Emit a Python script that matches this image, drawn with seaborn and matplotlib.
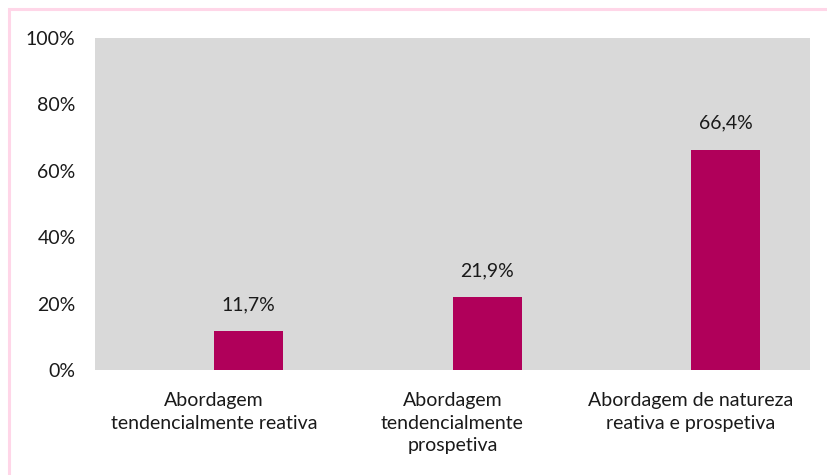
import matplotlib
matplotlib.use("Agg")
import matplotlib.pyplot as plt
import seaborn as sns
import pandas as pd
from matplotlib.patches import Rectangle
from matplotlib.ticker import FuncFormatter

categories = ["Abordagem\ntendencialmente reativa",
              "Abordagem\ntendencialmente\nprospetiva",
              "Abordagem de natureza\nreativa e prospetiva"]
values = [11.7, 21.9, 66.4]
value_labels = ["11,7%", "21,9%", "66,4%"]
yticks = [0, 20, 40, 60, 80, 100]

sns.set_theme(style="white")
plt.rcParams['font.family'] = ['Lato', 'DejaVu Sans']

df = pd.DataFrame({
    "cat": categories * 2,
    "val": [float("nan")] * 3 + values,
    "serie": ["vazio"] * 3 + ["valor"] * 3,
})

fig = plt.figure(figsize=(8.27, 4.75), dpi=100)
ax = fig.add_axes([95 / 827, 1 - 370 / 475, 715 / 827, 332 / 475])
ax.set_facecolor("#d9d9d9")

sns.barplot(data=df, x="cat", y="val", hue="serie", hue_order=["vazio", "valor"],
            order=categories, palette={"vazio": "#b0005a", "valor": "#b0005a"},
            width=0.58, dodge=True, legend=False, ax=ax, saturation=1,
            edgecolor="none", errorbar=None)

cont = ax.containers[-1]
for rect, lab in zip(cont, value_labels):
    ax.annotate(lab, (rect.get_x() + rect.get_width() / 2, rect.get_height()),
                xytext=(0, 13), textcoords="offset points", ha="center", va="bottom",
                fontsize=14, color="#1a1a1a")

ax.set_ylim(0, 100)
ax.set_yticks(yticks)
ax.yaxis.set_major_formatter(FuncFormatter(lambda v, p: f"{int(v)}%"))
ax.set_xlim(-0.5, 2.5)
ax.set_xlabel("")
ax.set_ylabel("")
for s in ax.spines.values():
    s.set_visible(False)
ax.tick_params(axis="y", length=0, pad=14, labelsize=14, labelcolor="#1a1a1a")
ax.tick_params(axis="x", length=0, pad=16, labelsize=14, labelcolor="#1a1a1a")
for t in ax.get_xticklabels():
    t.set_linespacing(1.4)
    t.set_ha("center")

fig.patches.append(Rectangle((9 / 827, -0.1), 1.2, 1 - 9 / 475 + 0.1,
                             transform=fig.transFigure, fill=False,
                             edgecolor="#ffd6e8", linewidth=2.2))

fig.savefig("out.png", dpi=100)
